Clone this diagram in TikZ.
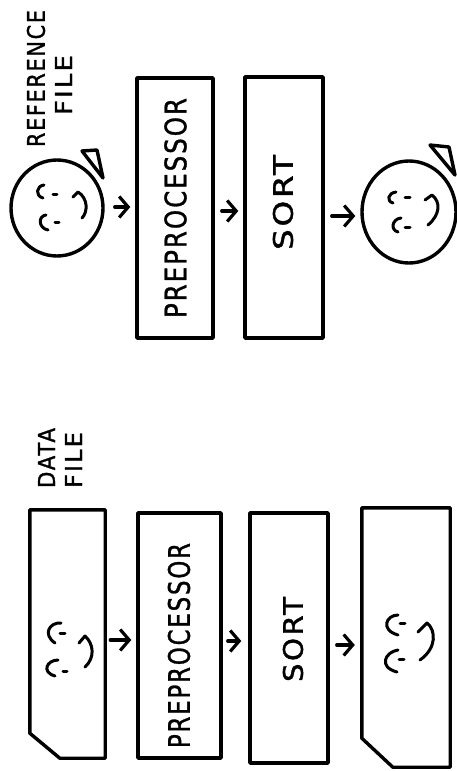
\documentclass[tikz,border=0pt]{standalone}
\usepackage{fontspec}
\setmainfont{DejaVu Sans}
\newfontfamily\letteringfont[FakeBold=1.2,LetterSpace=8]{DejaVu Sans}
\usetikzlibrary{arrows.meta,shapes.geometric}
% hand-lettered caption: text squeezed to a given length and cap height
\newcommand{\fitlabel}[3]{\resizebox{#1pt}{#2pt}{\letteringfont #3}}
\begin{document}
\begin{tikzpicture}[x=1pt,y=-1pt,line join=round,line cap=round,
  outline/.style={line width=3.4pt},
  procbox/.style={draw,line width=3.4pt,rectangle,inner sep=0pt},
  filebody/.style={draw,line width=3.4pt,ellipse,inner sep=0pt},
  cardframe/.style={rectangle,inner sep=0pt},
  caption/.style={rotate=90,inner sep=0pt,anchor=center},
  flow/.style={line width=3.2pt,-{Straight Barb[length=9pt,width=21pt,line width=3.2pt]}},
  feature/.style={line width=3pt}]
\useasboundingbox (0,0) rectangle (457,771);

% ---- reference file path (upper row) ----
\node[filebody,minimum width=92pt,minimum height=96pt] (refin) at (57,208) {};
\node[procbox,minimum width=76pt,minimum height=260pt] (pp1) at (175,208) {};
\node[procbox,minimum width=78pt,minimum height=261pt] (sort1) at (284,207.5) {};
\node[filebody,minimum width=94pt,minimum height=102pt] (refout) at (409,212) {};

% tape leaders
\draw[outline] (82,151) -- (97,150) -- (103,178) -- cycle;
\draw[outline] (430,145) -- (449,147) -- (455,175) -- cycle;

% captions
\node[caption] (reflbl) at (36,78.5) {\fitlabel{137}{18}{REFERENCE}};
\node[caption] (reffile) at (63.5,85) {\fitlabel{60}{17}{FILE}};
\node[caption] (pp1lbl) at (175.5,208) {\fitlabel{220}{22}{PREPROCESSOR}};
\node[caption] (sort1lbl) at (283,202.5) {\fitlabel{95}{20}{SORT}};

% ---- data file path (lower row) ----
\node[cardframe,minimum width=75pt,minimum height=248pt] (datain) at (67.5,634) {};
\node[procbox,minimum width=83pt,minimum height=245pt] (pp2) at (179.5,635.5) {};
\node[procbox,minimum width=78pt,minimum height=250pt] (sort2) at (289,638) {};
\node[cardframe,minimum width=88pt,minimum height=259pt] (dataout) at (406,637.5) {};

% punched-card outlines with a clipped corner
\draw[outline] (datain.north west) -- (datain.north east) -- (datain.south east)
  -- ([xshift=30pt]datain.south west) -- ([yshift=25pt]datain.south west) -- cycle;
\draw[outline] (dataout.north west) -- (dataout.north east) -- (dataout.south east)
  -- ([xshift=31pt]dataout.south west) -- ([yshift=29pt]dataout.south west) -- cycle;

\node[caption] (datalbl) at (46.5,458) {\fitlabel{60}{17}{DATA}};
\node[caption] (datafile) at (73.5,460) {\fitlabel{56}{17}{FILE}};
\node[caption] (pp2lbl) at (179,645.5) {\fitlabel{205}{22}{PREPROCESSOR}};
\node[caption] (sort2lbl) at (293,639.5) {\fitlabel{85}{20}{SORT}};

% ---- faces ----
% reference file, input
\draw[feature] (44,185) .. controls (36,186) and (35,196) .. (43,198);
\draw[feature] (53,194) -- (57,194);
\draw[feature] (46,215) .. controls (38,216) and (38,228) .. (48,230);
\draw[feature] (55,222) -- (59,222);
\draw[feature] (73,197) -- (78,192) .. controls (88,198) and (88,212) .. (82,218);
% reference file, sorted
\draw[feature] (396,192) .. controls (388,193) and (386,201) .. (393,203);
\draw[feature] (405,197) -- (410,197);
\draw[feature] (401,218) .. controls (392,219) and (390,230) .. (398,232);
\draw[feature] (405,227) -- (410,227);
\draw[feature] (425,200) -- (432,195) .. controls (441,202) and (440,215) .. (428,225);
% data file, input
\draw[feature] (61,623) .. controls (50,622) and (42,634) .. (55,643);
\draw[feature] (60,633) -- (65,633);
\draw[feature] (58,660) .. controls (47,660) and (41,672) .. (55,676);
\draw[feature] (63,671) -- (67,671);
\draw[feature] (79,643) -- (85,636) .. controls (94,644) and (95,658) .. (85,667);
% data file, sorted
\draw[feature] (398,615) .. controls (386,615) and (380,630) .. (398,635);
\draw[feature] (400,623) -- (405,623);
\draw[feature] (398,650) .. controls (385,652) and (378,667) .. (397,672);
\draw[feature] (399,659) -- (404,659);
\draw[feature] (418,632) -- (427,623) .. controls (436,630) and (437,648) .. (420,660);

% ---- flow arrows ----
\draw[flow] ([xshift=10pt,yshift=1pt]refin.east) -- ([xshift=-5pt,yshift=1pt]pp1.west);
\draw[flow] ([xshift=7pt,yshift=-3pt]pp1.east) -- ([xshift=-5pt,yshift=-3.5pt]sort1.west);
\draw[flow] ([xshift=7pt,yshift=-8.5pt]sort1.east) -- ([xshift=-5pt,yshift=-4pt]refout.west);
\draw[flow] ([xshift=5pt,yshift=-6pt]datain.east) -- ([xshift=-5pt,yshift=-4.5pt]pp2.west);
\draw[flow] ([xshift=5pt,yshift=-5.5pt]pp2.east) -- ([xshift=-7pt,yshift=-3pt]sort2.west);
\draw[flow] ([xshift=7pt,yshift=-7pt]sort2.east) -- ([xshift=-7pt,yshift=-7.5pt]dataout.west);
\end{tikzpicture}
\end{document}
